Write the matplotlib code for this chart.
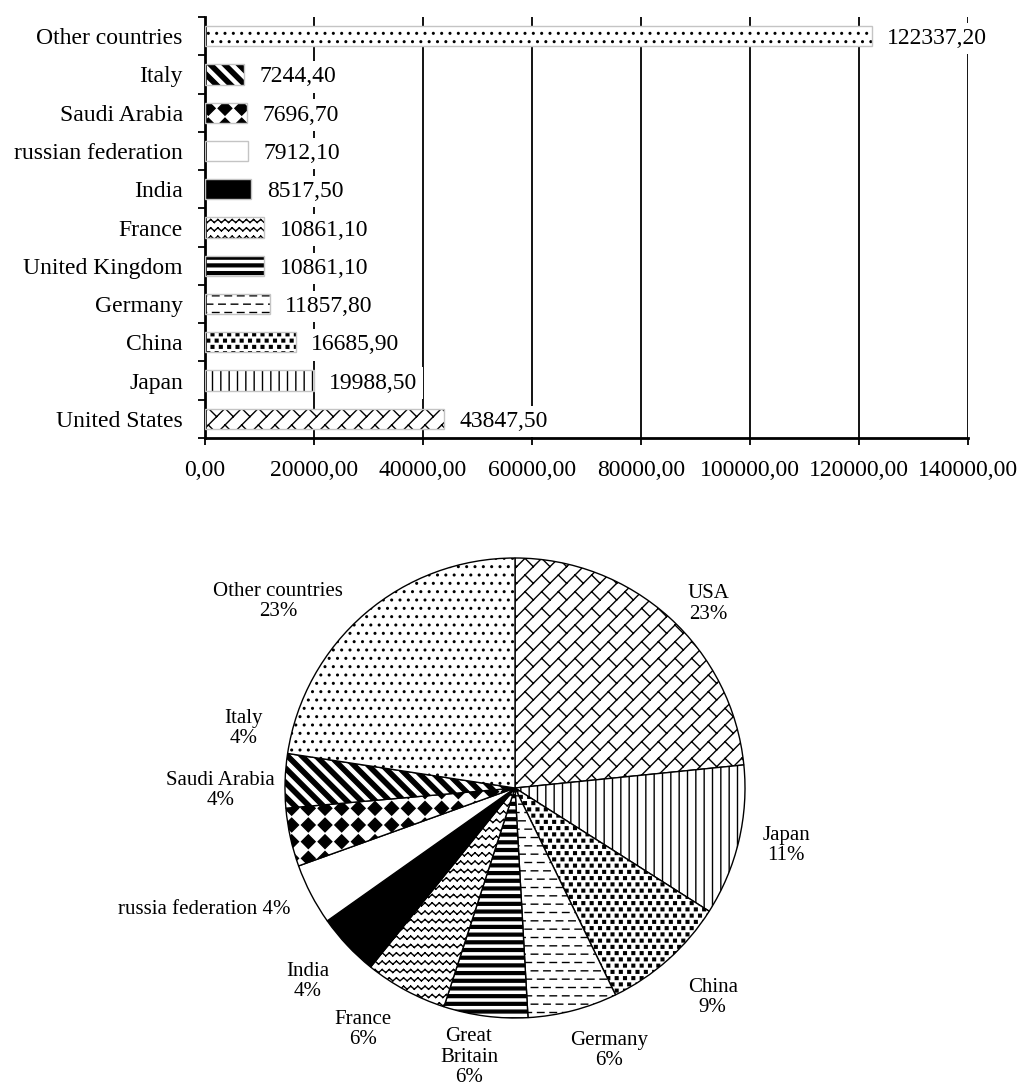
import warnings
import numpy as np
import matplotlib
matplotlib.use("Agg")
import matplotlib.pyplot as plt
import matplotlib.hatch as mhatch
from matplotlib.path import Path

warnings.filterwarnings("ignore", category=matplotlib.MatplotlibDeprecationWarning)

# bar chart, bottom to top
countries = ["United States", "Japan", "China", "Germany", "United Kingdom", "France",
             "India", "russian federation", "Saudi Arabia", "Italy", "Other countries"]
values = [43847.5, 19988.5, 16685.9, 11857.8, 10861.1, 10861.1,
          8517.5, 7912.1, 7696.7, 7244.4, 122337.2]
x_ticks = [0, 20000, 40000, 60000, 80000, 100000, 120000, 140000]

# pie chart, clockwise from 12 o'clock (shares in %)
pie_names = ["USA", "Japan", "China", "Germany", "Great\nBritain", "France",
             "India", "russia federation", "Saudi Arabia", "Italy", "Other countries"]
pie_shares = [23.4, 10.6, 8.8, 6.3, 5.9, 5.8, 4.4, 4.3, 4.1, 3.8, 22.6]

# same fill for bar i and wedge i
hatches = ["u", "||", "c", "g", "h", "z", None, None, "a", "i", ".."]
faces = ["white"] * 6 + ["black"] + ["white"] * 4


# ---- extra hatch patterns ----
class PolyHatch(mhatch.HatchPatternBase):
    char = None

    def __init__(self, hatch, density):
        segs, polys = self.shapes() if self.char in hatch else ([], [])
        verts, codes = [], []
        for a, b in segs:
            verts += [a, b]
            codes += [Path.MOVETO, Path.LINETO]
        for p in polys:
            verts += list(p) + [p[0]]
            codes += [Path.MOVETO] + [Path.LINETO] * (len(p) - 1) + [Path.CLOSEPOLY]
        self.verts = np.array(verts, float).reshape(-1, 2)
        self.codes = np.array(codes, Path.code_type)
        self.num_vertices = len(self.verts)

    def set_vertices_and_codes(self, vertices, codes):
        vertices[:] = self.verts
        codes[:] = self.codes


class DiagBands(PolyHatch):      # thick "\" stripes
    char = "i"

    def shapes(self):
        k, w = 7, 0.42
        polys = []
        for j in range(-k, 3 * k):
            c, d = j / k, (j + w) / k
            polys.append([(-1, c + 1), (2, c - 2), (2, d - 2), (-1, d + 1)])
        return [], polys


class Diamonds(PolyHatch):
    char = "a"

    def shapes(self):
        n, r = 6, 0.068
        polys = []
        for i in range(n):
            for j in range(n):
                cx, cy = (i + 0.5) / n, (j + 0.5) / n
                polys.append([(cx - r, cy), (cx, cy + r), (cx + r, cy), (cx, cy - r)])
        return [], polys


class Zigzag(PolyHatch):
    char = "z"

    def shapes(self):
        rows, m, a = 12, 14, 0.03
        segs = []
        for r in range(rows):
            y = (r + 0.3) / rows
            for j in range(m):
                x0, x1, x2 = j / m, (j + 0.5) / m, (j + 1) / m
                segs += [((x0, y), (x1, y + a)), ((x1, y + a), (x2, y))]
        return segs, []


class HBands(PolyHatch):
    char = "h"

    def shapes(self):
        k, h = 13, 0.028
        polys = []
        for j in range(k):
            y = (j + 0.5) / k
            polys.append([(-0.1, y - h / 2), (1.1, y - h / 2), (1.1, y + h / 2), (-0.1, y + h / 2)])
        return [], polys


class Dashes(PolyHatch):
    char = "g"

    def shapes(self):
        rows, m, L = 12, 8, 0.065
        segs = []
        for r in range(rows):
            y = (r + 0.5) / rows
            off = (r % 2) * 0.5 / m
            for j in range(-1, m + 1):
                x0 = j / m + off
                segs.append(((x0, y), (x0 + L, y)))
        return segs, []


class Squares(PolyHatch):
    char = "c"

    def shapes(self):
        rows, m, s = 16, 12, 0.027
        polys = []
        for r in range(rows):
            y = (r + 0.5) / rows
            off = (r % 2) * 0.5 / m
            for j in range(-1, m + 1):
                x = (j + 0.5) / m + off
                polys.append([(x - s / 2, y - s / 2), (x + s / 2, y - s / 2),
                              (x + s / 2, y + s / 2), (x - s / 2, y + s / 2)])
        return [], polys


class DiagBrick(PolyHatch):      # bricks laid along "/"
    char = "u"

    def shapes(self):
        k, L = 6, 1 / 6
        segs = []
        for j in range(-k - 1, k + 2):
            c = j / k
            segs.append(((-1, c - 1), (2, c + 2)))
            for i in range(-12, 13):
                t = L * i + (j % 2) * L / 2 - j / (2 * k)
                if -0.2 < t < 1.2 and -0.2 < t + c < 1.2:
                    segs.append(((t, t + c), (t - 0.5 / k, t + c + 0.5 / k)))
        return segs, []


mhatch._hatch_types.extend([DiagBands, Diamonds, Zigzag, HBands, Dashes, Squares, DiagBrick])

plt.rcParams["font.family"] = ["Liberation Serif", "DejaVu Serif"]
plt.rcParams["hatch.linewidth"] = 1.0

W, H = 1021, 1086
fig = plt.figure(figsize=(W / 100, H / 100), dpi=100)

# ---- bar chart ----
ax = fig.add_axes([205 / W, 1 - 438 / H, (968 - 205) / W, (438 - 17) / H])
y = np.arange(len(countries))
bars = ax.barh(y, values, height=0.53, color=faces, edgecolor="black", linewidth=0, zorder=2)
for b, h in zip(bars, hatches):
    b.set_hatch(h)
ax.barh(y, values, height=0.53, fill=False, edgecolor="#c4c4c4", linewidth=1, zorder=3)

for yi, v in zip(y, values):
    ax.annotate(f"{v:.2f}".replace(".", ","), (v, yi), xytext=(11, 0), textcoords="offset points",
                ha="left", va="center_baseline", fontsize=17, zorder=4,
                bbox=dict(boxstyle="square,pad=0.22", facecolor="white", edgecolor="none"))

ax.set_xlim(0, 140000)
ax.set_ylim(-0.5, len(countries) - 0.5)
ax.set_xticks(x_ticks)
ax.set_xticklabels([f"{v:.2f}".replace(".", ",") for v in x_ticks])
ax.set_yticks(y)
ax.set_yticklabels(countries)
ax.set_yticks(np.arange(len(countries) + 1) - 0.5, minor=True)
ax.tick_params(axis="x", length=5, width=1.3, pad=11, labelsize=17)
ax.tick_params(axis="y", which="major", length=0, pad=16, labelsize=17)
ax.tick_params(axis="y", which="minor", length=5, width=1.3)
ax.xaxis.grid(True, color="black", linewidth=1.3)
ax.set_axisbelow(True)
for s in ["top", "right"]:
    ax.spines[s].set_visible(False)
for s in ["left", "bottom"]:
    ax.spines[s].set_linewidth(2)

# ---- pie chart ----
ax2 = fig.add_axes([285 / W, 1 - 1018 / H, 460 / W, 460 / H])
wedges, _ = ax2.pie(pie_shares, startangle=90, counterclock=False, colors=faces,
                    wedgeprops=dict(edgecolor="black", linewidth=1))
for w, h in zip(wedges, hatches):
    w.set_hatch(h)
ax2.set_xlim(-1, 1)
ax2.set_ylim(-1, 1)

label_pos = [(0.84, 0.80), (1.18, -0.25), (0.86, -0.91), (0.41, -1.14), (-0.20, -1.17),
             (-0.66, -1.05), (-0.90, -0.84), (-0.975, -0.53), (-1.28, -0.01), (-1.18, 0.26),
             (-1.03, 0.81)]
for name, share, (lx, ly) in zip(pie_names, pie_shares, label_pos):
    single = name.startswith("russia")
    txt = f"{name}{' ' if single else chr(10)}{share:.0f}%"
    ax2.text(lx, ly, txt, ha="right" if single else "center", va="center", fontsize=15,
             linespacing=1.1, multialignment="center", clip_on=False)

fig.savefig("out.png", dpi=100)
